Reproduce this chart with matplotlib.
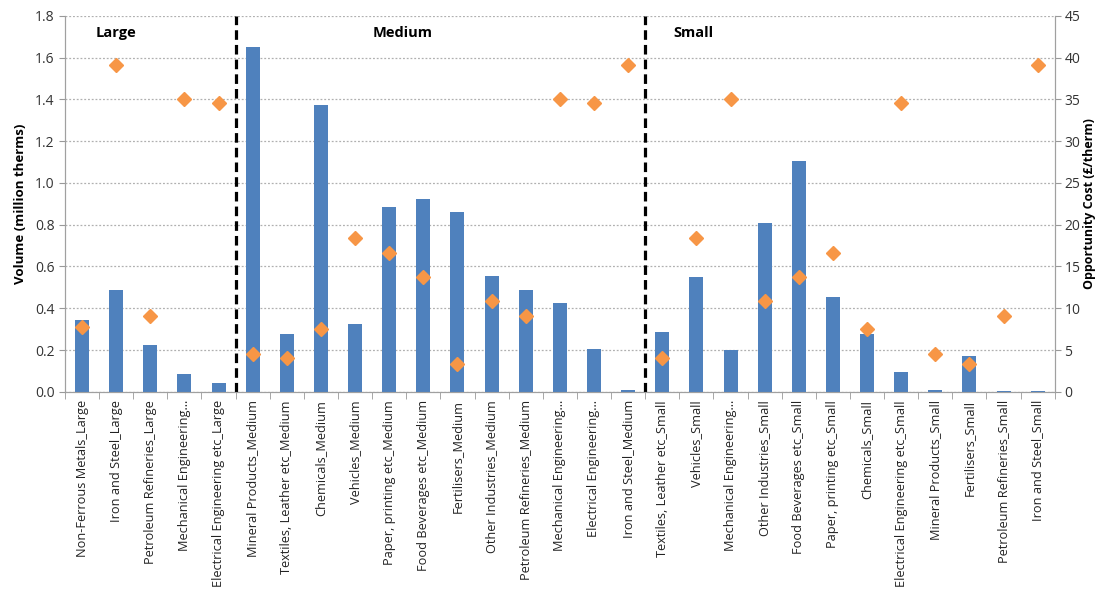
import matplotlib
matplotlib.use("Agg")
import matplotlib.pyplot as plt
import numpy as np

categories = [
    "Non-Ferrous Metals_Large", "Iron and Steel_Large", "Petroleum Refineries_Large",
    "Mechanical Engineering...", "Electrical Engineering etc_Large",
    "Mineral Products_Medium", "Textiles, Leather etc_Medium", "Chemicals_Medium",
    "Vehicles_Medium", "Paper, printing etc_Medium", "Food Beverages etc_Medium",
    "Fertilisers_Medium", "Other Industries_Medium", "Petroleum Refineries_Medium",
    "Mechanical Engineering...", "Electrical Engineering...", "Iron and Steel_Medium",
    "Textiles, Leather etc_Small", "Vehicles_Small", "Mechanical Engineering...",
    "Other Industries_Small", "Food Beverages etc_Small", "Paper, printing etc_Small",
    "Chemicals_Small", "Electrical Engineering etc_Small", "Mineral Products_Small",
    "Fertilisers_Small", "Petroleum Refineries_Small", "Iron and Steel_Small",
]
volume = [
    0.345, 0.487, 0.224, 0.083, 0.040,
    1.652, 0.275, 1.372, 0.324, 0.886, 0.922, 0.860, 0.554, 0.487, 0.423, 0.203, 0.008,
    0.284, 0.548, 0.200, 0.806, 1.106, 0.453, 0.275, 0.094, 0.008, 0.171, 0.004, 0.004,
]
cost = [
    7.7, 39.1, 9.05, 35.1, 34.6,
    4.5, 4.1, 7.5, 18.4, 16.6, 13.8, 3.3, 10.9, 9.05, 35.1, 34.6, 39.1,
    4.1, 18.4, 35.1, 10.9, 13.8, 16.6, 7.5, 34.6, 4.5, 3.3, 9.05, 39.1,
]
group_names = ["Large", "Medium", "Small"]
group_sizes = [5, 12, 12]

plt.rcParams['font.family'] = ['Open Sans', 'DejaVu Sans']

fig = plt.figure(figsize=(11.01, 5.90), dpi=100)
ax = fig.add_axes([0.059, 0.336, 0.899, 0.637])
ax2 = ax.twinx()

x = np.arange(len(categories))
bar_c = "#4F81BD"
dia_c = "#F79646"
ax.bar(x, volume, width=0.41, color=bar_c, zorder=3)
ax2.plot(x, cost, linestyle="none", marker="D", markersize=7.5, color=dia_c, zorder=4)

ax.set_xlim(-0.5, len(categories) - 0.5)
ax.set_ylim(0, 1.8)
ax2.set_ylim(0, 45)
ax.set_yticks(np.arange(0, 1.81, 0.2))
ax.set_yticklabels([f"{v:.1f}" for v in np.arange(0, 1.81, 0.2)], fontsize=10, color="#333333")
ax2.set_yticks(np.arange(0, 46, 5))
ax2.set_yticklabels([str(v) for v in range(0, 46, 5)], fontsize=10, color="#333333")

ax.grid(axis="y", linestyle=(0, (1.5, 1.5)), color="#b0b0b0", linewidth=0.9, zorder=0)
ax.set_axisbelow(True)

ax.set_xticks(x)
ax.set_xticklabels(categories, rotation=90, fontsize=9.2, color="#222222")
ax.tick_params(axis="x", length=0, pad=6)
ax.set_xticks(np.arange(-0.5, len(categories), 1), minor=True)
ax.tick_params(axis="x", which="minor", length=5, color="#999999")
ax.tick_params(axis="y", length=4, color="#999999")
ax2.tick_params(axis="y", length=4, color="#999999", pad=3)

for a in (ax, ax2):
    a.spines["top"].set_visible(False)
    for s in ("left", "right", "bottom"):
        a.spines[s].set_color("#a0a0a0")

ax.set_ylabel("Volume (million therms)", fontsize=9.5, fontweight="bold", labelpad=6)
ax2.set_ylabel("Opportunity Cost (£/therm)", fontsize=9, fontweight="bold", labelpad=2)

# group separators and labels
start = 0
for i, (name, n) in enumerate(zip(group_names, group_sizes)):
    if i > 0:
        ax.axvline(start - 0.5, color="black", linestyle=(0, (3, 1.6)), linewidth=2.3, zorder=5)
    start += n
label_x = [1.0, 9.4, 17.9]
for name, lx in zip(group_names, label_x):
    ax.text(lx, 1.72, name, fontsize=10.5, fontweight="bold", ha="center", va="center")

fig.savefig("out.png", dpi=100)
